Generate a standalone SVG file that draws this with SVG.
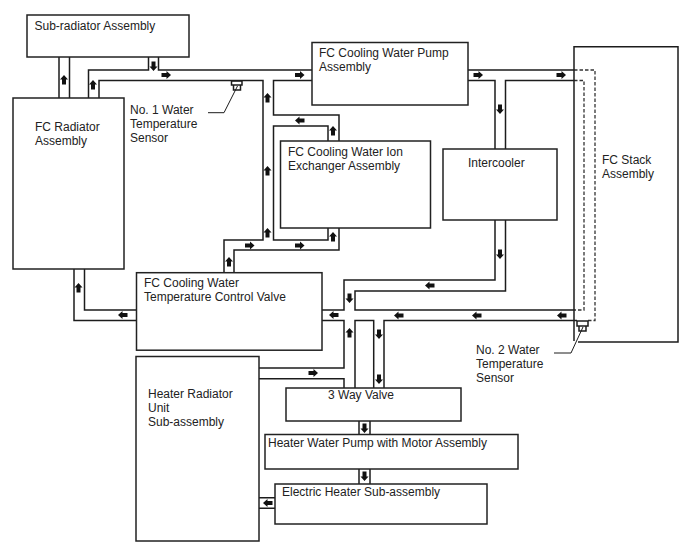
<svg xmlns="http://www.w3.org/2000/svg" xmlns:xlink="http://www.w3.org/1999/xlink" width="688" height="560" viewBox="0 0 688 560">
<style>
.box{fill:#fff;stroke:#222;stroke-width:1.5}
.pipe{fill:none;stroke:#1c1c1c;stroke-width:1.5}
.dash{fill:none;stroke:#333;stroke-width:1.3;stroke-dasharray:3.5 2}
.lead{fill:none;stroke:#1c1c1c;stroke-width:1}
.flow{fill:#111}
text{font-family:"Liberation Sans",Arial,sans-serif;font-size:12px;fill:#222}
</style>
<defs>
<path id="ar" class="flow" d="M-4.500-2H0.500V-4L5 0L0.500 4V2H-4.500Z"/>
</defs>
<rect width="688" height="560" fill="#fff"/>
<g id="connectors">
<path class="pipe" d="M59 57V98M69.500 57V98"/>
<path class="pipe" d="M88.500 98V70H148.500V57M158.500 57V70H312"/>
<path class="pipe" d="M99 98V80.500H263V240H224V272M234 272V250H339V228M328 228V240H273.500V126H328V141M339 141V115H273.500V80.500H312"/>
<path class="pipe" d="M468 70H574M468 80.500H495V149M505.500 149V80.500H574"/>
<path class="dash" d="M574 70H595V320.500H588M574 80.500H584V310H574"/>
<path class="pipe" d="M495 220V280H344V310H322M505.500 220V291H355V310H574M322 320.500H344V368H259M259 378.700H344V388M355 388V320.500H373.700V388M384 388V320.500H577"/>
<path class="pipe" d="M74 269V320.500H136.500M84.500 269V310H136.500"/>
<path class="pipe" d="M359 421V434.500M370 421V434.500M359 469V484M370 469V484M259 497.700H275M259 508.300H275"/>
<g>
<use xlink:href="#ar" transform="translate(64 80) rotate(-90)"/>
<use xlink:href="#ar" transform="translate(93 85) rotate(-90)"/>
<use xlink:href="#ar" transform="translate(267.500 98) rotate(-90)"/>
<use xlink:href="#ar" transform="translate(267.500 171) rotate(-90)"/>
<use xlink:href="#ar" transform="translate(267.500 233) rotate(-90)"/>
<use xlink:href="#ar" transform="translate(333 131) rotate(-90)"/>
<use xlink:href="#ar" transform="translate(333 237) rotate(-90)"/>
<use xlink:href="#ar" transform="translate(229 262) rotate(-90)"/>
<use xlink:href="#ar" transform="translate(78.500 288) rotate(-90)"/>
<use xlink:href="#ar" transform="translate(349.500 333) rotate(-90)"/>
<use xlink:href="#ar" transform="translate(166 75)"/>
<use xlink:href="#ar" transform="translate(299.500 75)"/>
<use xlink:href="#ar" transform="translate(249.500 245.500)"/>
<use xlink:href="#ar" transform="translate(299.500 245.500)"/>
<use xlink:href="#ar" transform="translate(478 75)"/>
<use xlink:href="#ar" transform="translate(561 75)"/>
<use xlink:href="#ar" transform="translate(313 373)"/>
<use xlink:href="#ar" transform="translate(300 120.500) rotate(180)"/>
<use xlink:href="#ar" transform="translate(123 315) rotate(180)"/>
<use xlink:href="#ar" transform="translate(334 315) rotate(180)"/>
<use xlink:href="#ar" transform="translate(430 285.500) rotate(180)"/>
<use xlink:href="#ar" transform="translate(399 315.500) rotate(180)"/>
<use xlink:href="#ar" transform="translate(477 315.500) rotate(180)"/>
<use xlink:href="#ar" transform="translate(562 315.500) rotate(180)"/>
<use xlink:href="#ar" transform="translate(268 503) rotate(180)"/>
<use xlink:href="#ar" transform="translate(153.500 66) rotate(90)"/>
<use xlink:href="#ar" transform="translate(500 109) rotate(90)"/>
<use xlink:href="#ar" transform="translate(500 254) rotate(90)"/>
<use xlink:href="#ar" transform="translate(349.500 298) rotate(90)"/>
<use xlink:href="#ar" transform="translate(379 334) rotate(90)"/>
<use xlink:href="#ar" transform="translate(379 379) rotate(90)"/>
<use xlink:href="#ar" transform="translate(364.500 428) rotate(90)"/>
<use xlink:href="#ar" transform="translate(364.500 476) rotate(90)"/>
</g>
</g>
<g id="sub-radiator"><rect class="box" x="27" y="15" width="162" height="42"/><text x="34.500" y="30">Sub-radiator Assembly</text></g>
<g id="fc-radiator"><rect class="box" x="13" y="98" width="111" height="171"/><text x="35" y="131">FC Radiator</text><text x="35" y="145">Assembly</text></g>
<g id="water-pump"><rect class="box" x="312" y="42.500" width="156" height="62.500"/><text x="319" y="57">FC Cooling Water Pump</text><text x="319" y="71">Assembly</text></g>
<g id="ion-exchanger"><rect class="box" x="280.500" y="141" width="150" height="87"/><text x="288" y="156">FC Cooling Water Ion</text><text x="288" y="170">Exchanger Assembly</text></g>
<g id="intercooler"><rect class="box" x="443" y="149" width="114" height="71"/><text x="468" y="167">Intercooler</text></g>
<g id="fc-stack"><path class="pipe" d="M574 341V46.700H678V342H578"/><text x="602" y="164">FC Stack</text><text x="602" y="178">Assembly</text></g>
<g id="temp-control-valve"><rect class="box" x="136.500" y="272.700" width="185.500" height="77.500"/><text x="144" y="287">FC Cooling Water</text><text x="144" y="301">Temperature Control Valve</text></g>
<g id="heater-radiator"><rect class="box" x="136" y="356.500" width="123" height="184.500"/><text x="148" y="398">Heater Radiator</text><text x="148" y="412">Unit</text><text x="148" y="426">Sub-assembly</text></g>
<g id="three-way-valve"><rect class="box" x="286" y="388" width="175" height="33"/><text x="328" y="399">3 Way Valve</text></g>
<g id="heater-pump"><rect class="box" x="265" y="434.500" width="253" height="34.500"/><text x="268" y="447">Heater Water Pump with Motor Assembly</text></g>
<g id="electric-heater"><rect class="box" x="275" y="484" width="212" height="40"/><text x="282" y="495.500">Electric Heater Sub-assembly</text></g>
<g id="sensor-1"><path class="pipe" d="M231.500 81H242V85H231.500ZM233.500 85V90H240.500V85"/><path class="lead" d="M237.500 86L224 112.700H208"/><text x="130" y="113.500">No. 1 Water</text><text x="130" y="127.500">Temperature</text><text x="130" y="141.500">Sensor</text></g>
<g id="sensor-2"><path class="pipe" d="M577 321H588V326H577ZM579 326V331H586V326"/><path class="lead" d="M583 327L571 353H554"/><text x="476" y="354">No. 2 Water</text><text x="476" y="368">Temperature</text><text x="476" y="382">Sensor</text></g>
</svg>
